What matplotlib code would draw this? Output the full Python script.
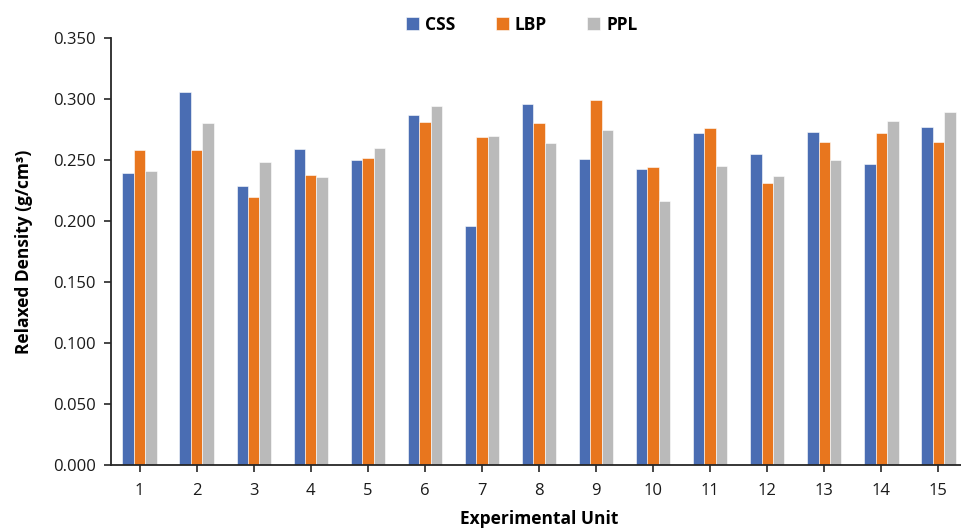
import matplotlib
matplotlib.use("Agg")
import matplotlib.pyplot as plt
import numpy as np
from matplotlib.ticker import FormatStrFormatter

units = [str(i) for i in range(1, 16)]
css = [0.239, 0.306, 0.229, 0.259, 0.250, 0.287, 0.196, 0.296, 0.251, 0.243,
       0.272, 0.255, 0.273, 0.247, 0.277]
lbp = [0.258, 0.258, 0.220, 0.238, 0.252, 0.281, 0.269, 0.280, 0.299, 0.244,
       0.276, 0.231, 0.265, 0.272, 0.265]
ppl = [0.241, 0.280, 0.248, 0.236, 0.260, 0.294, 0.270, 0.264, 0.275, 0.216,
       0.245, 0.237, 0.250, 0.282, 0.289]

plt.rcParams["font.family"] = ["Open Sans", "DejaVu Sans"]

fig = plt.figure(figsize=(9.61, 5.30), dpi=100)
ax = fig.add_axes([111 / 961, 65 / 530, 856 / 961, 427 / 530])

x = np.arange(1, len(units) + 1)
w = 0.2
series = [("CSS", css, "#4A6DB3"), ("LBP", lbp, "#E8761E"), ("PPL", ppl, "#BABABA")]
for i, (name, vals, col) in enumerate(series):
    ax.bar(x + (i - 1) * w, vals, width=w, color=col, edgecolor="white",
           linewidth=0.4, label=name, zorder=2)

ax.set_xlim(0.5, 15.5)
ax.set_ylim(0, 0.35)
ax.set_yticks(np.arange(0, 0.351, 0.05))
ax.yaxis.set_major_formatter(FormatStrFormatter("%.3f"))
ax.set_xticks(x)
ax.set_xticklabels(units)

for side in ("top", "right"):
    ax.spines[side].set_visible(False)
for side in ("left", "bottom"):
    ax.spines[side].set_color("#262626")
    ax.spines[side].set_linewidth(1.3)
ax.tick_params(axis="both", direction="out", length=5, width=1.2, color="#262626",
               labelsize=12, labelcolor="#1a1a1a", pad=6)
ax.tick_params(axis="x", pad=8)

ax.set_ylabel("Relaxed Density (g/cm³)", fontsize=12.5, fontweight="bold", labelpad=14)
ax.set_xlabel("Experimental Unit", fontsize=12.5, fontweight="bold", labelpad=8)

fig.legend(loc="upper center", bbox_to_anchor=(0.543, 1.0), ncol=3, frameon=False,
           prop={"weight": "bold", "size": 12.5}, handlelength=0.75, handleheight=0.75,
           columnspacing=2.3, handletextpad=0.35)

fig.savefig("out.png", dpi=100)
